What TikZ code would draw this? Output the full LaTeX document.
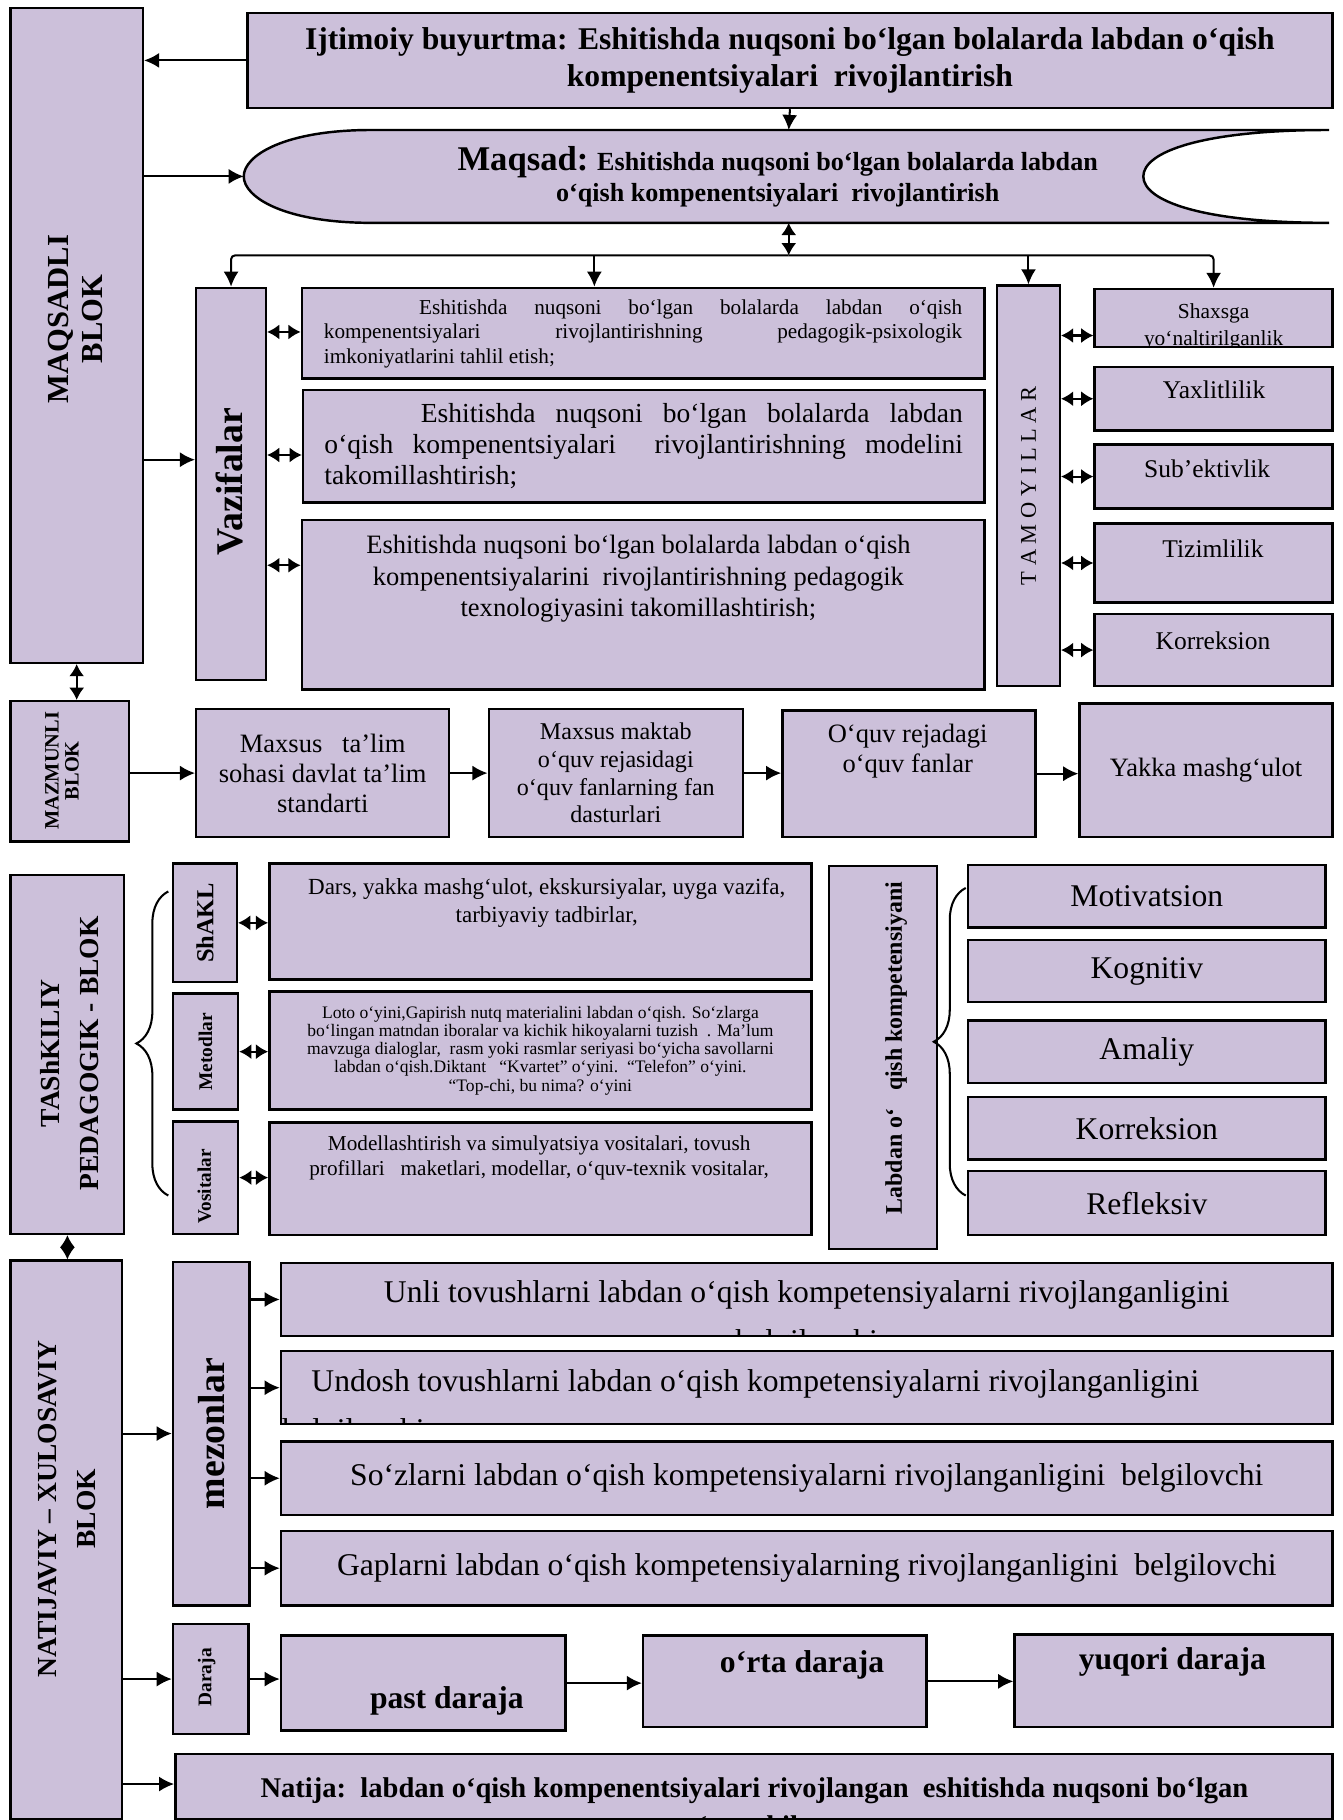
\documentclass[tikz,border=0pt]{standalone}
\usepackage{fontspec}
\setmainfont{Liberation Serif}
\usetikzlibrary{arrows.meta,decorations.pathreplacing}
\definecolor{boxfill}{RGB}{204,192,218}
\newcommand{\fsz}[2]{\fontsize{#1}{#2}\selectfont}

\begin{document}
\begin{tikzpicture}[
  blok/.style={draw,line width=1.2pt,fill=boxfill,anchor=north west,inner sep=0pt,align=center},
  arr/.style={line width=1pt,-{Latex[length=2.6mm,width=2.6mm]}},
  darr/.style={line width=1pt,{Latex[length=2.1mm,width=2.6mm]}-{Latex[length=2.1mm,width=2.6mm]}},
  brc/.style={line width=1pt,decorate,decoration={brace,amplitude=0.55cm}},
  vtxt/.style={rotate=90,inner sep=0pt,align=center},
  txt/.style={inner sep=0pt,align=center}]

  \useasboundingbox (0,0) rectangle (23.14,-31.36);
  \clip (0,0) rectangle (23.14,-31.36);

  % maqsadli blok
  \node[blok,minimum width=2.28cm,minimum height=11.28cm] (maq) at (0.16,-0.12) {};
  \node[vtxt,font=\bfseries\fsz{15}{17}] (maqt) at (1.3,-5.5) {MAQSADLI\\BLOK};

  \node[blok,minimum width=18.7cm,minimum height=1.64cm,font=\bfseries\fsz{15.5}{18}] (ijt) at (4.24,-0.2)
    {Ijtimoiy buyurtma: Eshitishda nuqsoni bo‘lgan bolalarda labdan o‘qish\\kompenentsiyalari\ \ rivojlantirish};

  \draw[line width=1.2pt,fill=boxfill] (6.4,-2.24) -- (22.9,-2.24)
    .. controls (20.7,-2.24) and (19.7,-2.62) .. (19.7,-3.04)
    .. controls (19.7,-3.46) and (20.7,-3.84) .. (22.9,-3.84) -- (6.4,-3.84)
    .. controls (4.9,-3.84) and (4.2,-3.4) .. (4.2,-3.04)
    .. controls (4.2,-2.68) and (4.9,-2.24) .. (6.4,-2.24) -- cycle;
  \coordinate (maqL) at (4.2,-3.04);
  \coordinate (maqT) at (13.59,-2.24);
  \coordinate (maqB) at (13.59,-3.84);
  \coordinate (jn) at (13.59,-4.4);
  \node[txt,font=\bfseries\fsz{12.8}{15.3}] (maqsad) at (13.4,-3.04)
    {{\fsz{17}{15.3}Maqsad:} Eshitishda nuqsoni bo‘lgan bolalarda labdan\\o‘qish kompenentsiyalari\ \ rivojlantirish};

  \draw[arr] (ijt.west) -- (maq.east |- ijt.west);
  \draw[arr] (ijt.south) -- (maqT);
  \draw[arr] (maq.east |- maqL) -- (maqL);
  \draw[darr] (maqB) -- (jn);

  % vazifalar
  \node[blok,minimum width=1.2cm,minimum height=6.76cm] (vaz) at (3.36,-4.94) {};
  \node[vtxt,font=\bfseries\fsz{18.5}{20}] (vazt) at (3.96,-8.3) {Vazifalar};

  \node[blok,minimum width=11.76cm,minimum height=1.56cm] (t1) at (5.18,-4.94) {};
  \begin{scope}
    \clip ([shift={(0.03,0.03)}]t1.south west) rectangle ([shift={(-0.03,-0.03)}]t1.north east);
    \node[txt,anchor=north,text width=11cm,align=justify,font=\fsz{10.4}{11.9}] (t1t) at ([yshift=-0.22cm]t1.north)
      {\hspace*{1.64cm}Eshitishda nuqsoni bo‘lgan bolalarda labdan o‘qish\linebreak kompenentsiyalari rivojlantirishning pedagogik-psixologik\linebreak imkoniyatlarini tahlil etish;};
  \end{scope}
  \node[blok,minimum width=11.74cm,minimum height=1.94cm,text width=11cm,align=justify,font=\fsz{13.5}{15.3}] (t2) at (5.2,-6.7)
    {\hspace*{1.66cm}Eshitishda nuqsoni bo‘lgan bolalarda labdan\linebreak o‘qish kompenentsiyalari\ \ rivojlantirishning modelini\linebreak takomillashtirish;};
  \node[blok,minimum width=11.76cm,minimum height=2.92cm] (t3) at (5.18,-8.94) {};
  \node[txt,anchor=north,font=\fsz{13}{15.3}] (t3t) at ([yshift=-0.28cm,xshift=-0.08cm]t3.north)
    {Eshitishda nuqsoni bo‘lgan bolalarda labdan o‘qish\\kompenentsiyalarini\ \ rivojlantirishning pedagogik\\texnologiyasini takomillashtirish;};

  \coordinate (vazin) at ([yshift=0.42cm]vaz.west);
  \draw[arr] (maq.east |- vazin) -- (vazin);
  \coordinate (t1in) at ([yshift=-0.78cm]t1.north west);
  \coordinate (t2in) at ([yshift=-1.14cm]t2.north west);
  \coordinate (t3in) at ([yshift=-0.8cm]t3.north west);
  \draw[darr] (vaz.east |- t1in) -- (t1in);
  \draw[darr] (vaz.east |- t2in) -- (t2in);
  \draw[darr] (vaz.east |- t3in) -- (t3in);

  % tamoyillar
  \node[blok,minimum width=1.08cm,minimum height=6.9cm] (tam) at (17.16,-4.9) {};
  \node[vtxt,font=\fsz{11}{13}] (tamt) at (tam.center) {T A M O Y I L L A R};

  \node[blok,minimum width=4.1cm,minimum height=1cm] (pr1) at (18.84,-4.96) {};
  \begin{scope}
    \clip ([shift={(0.03,0.03)}]pr1.south west) rectangle ([shift={(-0.03,-0.03)}]pr1.north east);
    \node[txt,anchor=north,font=\fsz{10.5}{13}] (pr1t) at ([yshift=-0.27cm]pr1.north) {Shaxsga\\yo‘naltirilganlik};
  \end{scope}
  \node[blok,minimum width=4.1cm,minimum height=1.1cm] (pr2) at (18.84,-6.3) {};
  \node[blok,minimum width=4.1cm,minimum height=1.1cm] (pr3) at (18.84,-7.64) {};
  \node[blok,minimum width=4.1cm,minimum height=1.36cm] (pr4) at (18.84,-9.0) {};
  \node[blok,minimum width=4.1cm,minimum height=1.24cm] (pr5) at (18.84,-10.56) {};
  \node[txt,font=\fsz{12.5}{14}] (pr2t) at (20.92,-6.72) {Yaxlitlilik};
  \node[txt,font=\fsz{12.5}{14}] (pr3t) at (20.8,-8.08) {Sub’ektivlik};
  \node[txt,font=\fsz{12.5}{14}] (pr4t) at (20.9,-9.46) {Tizimlilik};
  \node[txt,font=\fsz{12.5}{14}] (pr5t) at (20.9,-11.04) {Korreksion};

  \coordinate (pr1in) at ([yshift=-0.3cm]pr1.west);
  \draw[darr] (tam.east |- pr1in) -- (pr1in);
  \draw[darr] (tam.east |- pr2.west) -- (pr2.west);
  \draw[darr] (tam.east |- pr3.west) -- (pr3.west);
  \draw[darr] (tam.east |- pr4.west) -- (pr4.west);
  \draw[darr] (tam.east |- pr5.west) -- (pr5.west);

  % branches under maqsad
  \coordinate (t1top) at ([xshift=-0.84cm]t1.north);
  \draw[arr,rounded corners=2pt] (jn) -| (vaz.north);
  \draw[arr,rounded corners=2pt] (jn) -| (pr1.north);
  \draw[arr] (t1top |- jn) -- (t1top);
  \draw[arr] (tam.north |- jn) -- (tam.north);

  % mazmunli blok
  \node[blok,minimum width=2.04cm,minimum height=2.42cm] (maz) at (0.16,-12.06) {};
  \node[vtxt,font=\bfseries\fsz{10}{9.8}] (mazt) at (1.07,-13.28) {MAZMUNLI\\BLOK};
  \draw[darr] (maq.south) -- (maq.south |- maz.north);

  \node[blok,minimum width=4.36cm,minimum height=2.2cm,font=\fsz{13}{14.7}] (m1) at (3.36,-12.2)
    {Maxsus\ \ \ ta’lim\\sohasi davlat ta’lim\\standarti};
  \node[blok,minimum width=4.38cm,minimum height=2.2cm,font=\fsz{11.8}{13.6}] (m2) at (8.4,-12.2)
    {Maxsus maktab\\o‘quv rejasidagi\\o‘quv fanlarning fan\\dasturlari};
  \node[blok,minimum width=4.36cm,minimum height=2.18cm] (m3) at (13.46,-12.22) {};
  \node[txt,font=\fsz{13}{14.7}] (m3t) at (15.64,-12.94) {O‘quv rejadagi\\o‘quv fanlar};
  \node[blok,minimum width=4.36cm,minimum height=2.3cm,font=\fsz{13}{15}] (m4) at (18.58,-12.1) {Yakka mashg‘ulot};

  \draw[arr] (maz.east |- m1.west) -- (m1.west);
  \draw[arr] (m1.east) -- (m1.east -| m2.west);
  \draw[arr] (m2.east) -- (m2.east -| m3.west);
  \draw[arr] (m3.east) -- (m3.east -| m4.west);

  % tashkiliy pedagogik blok
  \node[blok,minimum width=1.96cm,minimum height=6.18cm] (tash) at (0.16,-15.06) {};
  \node[vtxt,font=\bfseries\fsz{13.5}{19}] (tasht) at (1.2,-18.15) {TAShKILIY\\PEDAGOGIK - BLOK};
  \draw[brc] (2.9,-20.6) -- (2.9,-15.36);

  \node[blok,minimum width=1.1cm,minimum height=2.04cm] (sh) at (2.96,-14.86) {};
  \node[vtxt,font=\bfseries\fsz{12}{14}] (sht) at (sh.center) {ShAKL};
  \node[blok,minimum width=1.12cm,minimum height=2cm] (met) at (2.96,-17.1) {};
  \node[vtxt,font=\bfseries\fsz{9.5}{11}] (mett) at (met.center) {Metodlar};
  \node[blok,minimum width=1.12cm,minimum height=1.94cm] (vos) at (2.96,-19.3) {};
  \node[vtxt,font=\bfseries\fsz{9.4}{11}] (vost) at (3.52,-20.44) {Vositalar};

  \node[blok,minimum width=9.34cm,minimum height=2cm] (d1) at (4.62,-14.86) {};
  \node[txt,font=\fsz{11.3}{13.6}] (d1t) at (9.42,-15.56)
    {Dars, yakka mashg‘ulot, ekskursiyalar, uyga vazifa,\\tarbiyaviy tadbirlar,};
  \node[blok,minimum width=9.34cm,minimum height=2.04cm,font=\fsz{8.6}{8.9}] (d2) at (4.62,-17.06)
    {Loto o‘yini,Gapirish nutq materialini labdan o‘qish. So‘zlarga\\
     bo‘lingan matndan iboralar va kichik hikoyalarni tuzish\ \ . Ma’lum\\
     mavzuga dialoglar,\ \ rasm yoki rasmlar seriyasi bo‘yicha savollarni\\
     labdan o‘qish.Diktant\ \ \ “Kvartet” o‘yini.\ \ “Telefon” o‘yini.\\
     “Top-chi, bu nima? o‘yini};
  \node[blok,minimum width=9.34cm,minimum height=1.94cm] (d3) at (4.62,-19.32) {};
  \node[txt,font=\fsz{10.4}{11.9}] (d3t) at (9.29,-19.95)
    {Modellashtirish va simulyatsiya vositalari, tovush\\profillari\ \ \ maketlari, modellar, o‘quv-texnik vositalar,};

  \draw[darr] (sh.east) -- (sh.east -| d1.west);
  \draw[darr] (met.east) -- (met.east -| d2.west);
  \draw[darr] (vos.east) -- (vos.east -| d3.west);

  % labdan o'qish kompetensiyasi
  \node[blok,minimum width=1.86cm,minimum height=6.6cm] (lab) at (14.26,-14.9) {};
  \node[vtxt,font=\bfseries\fsz{11.7}{14}] (labt) at (15.44,-18.06) {Labdan o‘\ \ \ qish kompetensiyani};
  \draw[brc] (16.64,-20.6) -- (16.64,-15.3);

  \node[blok,minimum width=6.16cm,minimum height=1.08cm,font=\fsz{15.5}{17}] (co1) at (16.66,-14.88) {Motivatsion};
  \node[blok,minimum width=6.16cm,minimum height=1.06cm,font=\fsz{15.5}{17}] (co2) at (16.66,-16.18) {Kognitiv};
  \node[blok,minimum width=6.16cm,minimum height=1.08cm,font=\fsz{15.5}{17}] (co3) at (16.66,-17.56) {Amaliy};
  \node[blok,minimum width=6.16cm,minimum height=1.08cm,font=\fsz{15.5}{17}] (co4) at (16.66,-18.88) {Korreksion};
  \node[blok,minimum width=6.16cm,minimum height=1.1cm,font=\fsz{15.5}{17}] (co5) at (16.66,-20.16) {Refleksiv};

  % natijaviy - xulosaviy blok
  \node[blok,minimum width=1.92cm,minimum height=9.62cm] (nat) at (0.16,-21.7) {};
  \node[vtxt,font=\bfseries\fsz{13.5}{19}] (natt) at (1.15,-26.0) {NATIJAVIY – XULOSAVIY\\BLOK};
  \draw[darr] (tash.south) -- (tash.south |- nat.north);

  \node[blok,minimum width=1.32cm,minimum height=5.92cm] (mez) at (2.96,-21.72) {};
  \node[vtxt,font=\bfseries\fsz{18.5}{20}] (mezt) at (mez.center) {mezonlar};
  \draw[arr] (nat.east |- mez.west) -- (mez.west);

  \node[blok,minimum width=18.12cm,minimum height=1.26cm] (c1) at (4.82,-21.74) {};
  \begin{scope}
    \clip ([shift={(0.03,0.03)}]c1.south west) rectangle ([shift={(-0.03,-0.03)}]c1.north east);
    \node[txt,anchor=north,font=\fsz{15.5}{24}] (c1t) at ([yshift=-0.31cm]c1.north)
      {Unli tovushlarni labdan o‘qish kompetensiyalarni rivojlanganligini\\belgilovchi};
  \end{scope}
  \node[blok,minimum width=18.12cm,minimum height=1.26cm] (c2) at (4.82,-23.26) {};
  \begin{scope}
    \clip ([shift={(0.03,0.03)}]c2.south west) rectangle ([shift={(-0.03,-0.03)}]c2.north east);
    \node[txt,anchor=north west,align=left,font=\fsz{15.5}{24}] (c2t) at (4.86,-23.59)
      {\hspace*{0.5cm}Undosh tovushlarni labdan o‘qish kompetensiyalarni rivojlanganligini\\belgilovchi};
  \end{scope}
  \node[blok,minimum width=18.12cm,minimum height=1.26cm,font=\fsz{15.5}{18}] (c3) at (4.82,-24.82)
    {So‘zlarni labdan o‘qish kompetensiyalarni rivojlanganligini\ \ belgilovchi};
  \node[blok,minimum width=18.12cm,minimum height=1.28cm,font=\fsz{15.5}{18}] (c4) at (4.82,-26.36)
    {Gaplarni labdan o‘qish kompetensiyalarning rivojlanganligini\ \ belgilovchi};

  \draw[arr] (mez.east |- c1.west) -- (c1.west);
  \draw[arr] (mez.east |- c2.west) -- (c2.west);
  \draw[arr] (mez.east |- c3.west) -- (c3.west);
  \draw[arr] (mez.east |- c4.west) -- (c4.west);

  % daraja
  \node[blok,minimum width=1.3cm,minimum height=1.9cm] (dar) at (2.96,-27.96) {};
  \node[vtxt,font=\bfseries\fsz{9.5}{11}] (dart) at (3.56,-28.9) {Daraja};
  \draw[arr] (nat.east |- dar.west) -- (dar.west);

  \node[blok,minimum width=4.9cm,minimum height=1.64cm] (p1) at (4.82,-28.16) {};
  \node[txt,font=\bfseries\fsz{15.5}{17}] (p1t) at (7.7,-29.3) {past daraja};
  \node[blok,minimum width=4.88cm,minimum height=1.58cm] (p2) at (11.06,-28.16) {};
  \node[txt,font=\bfseries\fsz{15.5}{17}] (p2t) at (13.82,-28.68) {o‘rta daraja};
  \node[blok,minimum width=5.48cm,minimum height=1.6cm] (p3) at (17.46,-28.14) {};
  \node[txt,font=\bfseries\fsz{15.5}{17}] (p3t) at (20.2,-28.64) {yuqori daraja};

  \draw[arr] (dar.east) -- (dar.east -| p1.west);
  \draw[arr] (p1.east) -- (p1.east -| p2.west);
  \draw[arr] (p2.east) -- (p2.east -| p3.west);

  % natija
  \node[blok,minimum width=19.94cm,minimum height=1.12cm] (natija) at (3.0,-30.2) {};
  \begin{scope}
    \clip ([shift={(0.03,0.03)}]natija.south west) rectangle ([shift={(-0.03,-0.03)}]natija.north east);
    \node[txt,anchor=north,font=\bfseries\fsz{14}{18.5}] (natijat) at (13.0,-30.62)
      {Natija:\ \ labdan o‘qish kompenentsiyalari rivojlangan\ \ eshitishda nuqsoni bo‘lgan\\o‘quvchilar};
  \end{scope}
  \coordinate (natin) at (3.0,-30.74);
  \draw[arr] (nat.east |- natin) -- (natin);

\end{tikzpicture}
\end{document}
